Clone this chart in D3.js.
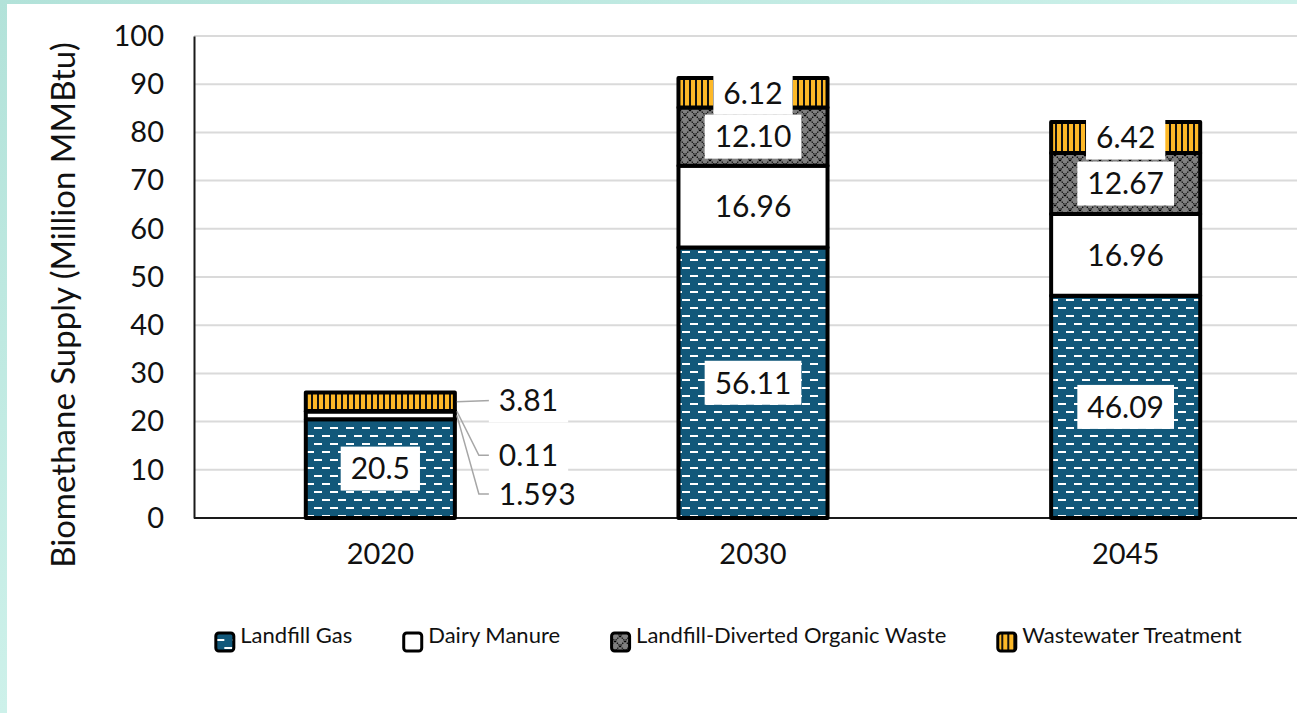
<!DOCTYPE html>
<html>
<head>
<meta charset="utf-8">
<script src="https://cdnjs.cloudflare.com/ajax/libs/d3/7.8.5/d3.min.js"></script>
<style>
  body { margin: 0; background: #fff; }
  svg { display: block; font-family: Lato, "Noto Sans", sans-serif; }
</style>
</head>
<body>
<div id="chart"></div>
<script>
// values
const years = ["2020", "2030", "2045"];
const seriesNames = ["Landfill Gas", "Dairy Manure", "Landfill-Diverted Organic Waste", "Wastewater Treatment"];
const landfillGas = [20.5, 56.11, 46.09];
const dairyManure = [1.593, 16.96, 16.96];
const organicWaste = [0.11, 12.10, 12.67];
const wastewater = [3.81, 6.12, 6.42];
const landfillLabels = ["20.5", "56.11", "46.09"];
const dairyLabels = ["1.593", "16.96", "16.96"];
const organicLabels = ["0.11", "12.10", "12.67"];
const wastewaterLabels = ["3.81", "6.12", "6.42"];
const yTicks = [0, 10, 20, 30, 40, 50, 60, 70, 80, 90, 100];
const yTitle = "Biomethane Supply (Million MMBtu)";

const W = 1297, H = 713;
const plot = {left: 194, right: 1312, top: 36, bottom: 518};

const seriesKeys = ["landfill", "dairy", "organic", "wastewater"];
const fills = ["url(#pLandfill)", "#ffffff", "url(#pOrganic)", "url(#pWaste)"];
const labelsBySeries = [landfillLabels, dairyLabels, organicLabels, wastewaterLabels];

const rows = years.map((yr, i) => ({
  year: yr,
  landfill: landfillGas[i],
  dairy: dairyManure[i],
  organic: organicWaste[i],
  wastewater: wastewater[i]
}));

const stacked = d3.stack().keys(seriesKeys)(rows);

const svg = d3.select("#chart").append("svg")
  .attr("width", W)
  .attr("height", H);

// patterns + background gradient
const defs = svg.append("defs");
const bg = defs.append("linearGradient").attr("id", "bgGrad")
  .attr("x1", 0).attr("y1", 0).attr("x2", 1).attr("y2", 1);
bg.append("stop").attr("offset", "0%").attr("stop-color", "#b2e2d9");
bg.append("stop").attr("offset", "50%").attr("stop-color", "#cdf1ea");
bg.append("stop").attr("offset", "100%").attr("stop-color", "#dcf8f3");

const pL = defs.append("pattern").attr("id", "pLandfill")
  .attr("patternUnits", "userSpaceOnUse").attr("width", 16).attr("height", 16);
pL.append("rect").attr("width", 16).attr("height", 16).attr("fill", "#12587a");
pL.append("rect").attr("x", 2).attr("y", 3).attr("width", 8).attr("height", 2).attr("fill", "#fff");
pL.append("rect").attr("x", 10).attr("y", 11).attr("width", 8).attr("height", 2).attr("fill", "#fff");
pL.append("rect").attr("x", -6).attr("y", 11).attr("width", 8).attr("height", 2).attr("fill", "#fff");

const pW = defs.append("pattern").attr("id", "pWaste")
  .attr("patternUnits", "userSpaceOnUse").attr("width", 6).attr("height", 6);
pW.append("rect").attr("width", 6).attr("height", 6).attr("fill", "#111");
pW.append("rect").attr("x", 1).attr("width", 4).attr("height", 6).attr("fill", "#fdb827");

const pO = defs.append("pattern").attr("id", "pOrganic")
  .attr("patternUnits", "userSpaceOnUse").attr("width", 10).attr("height", 10);
pO.append("rect").attr("width", 10).attr("height", 10).attr("fill", "#808080");
pO.append("path").attr("d", "M0,0L10,10M10,0L0,10")
  .attr("stroke", "#000").attr("stroke-width", 1.2).attr("stroke-dasharray", "1.4,1");

svg.append("rect").attr("width", W).attr("height", H).attr("fill", "url(#bgGrad)");
svg.append("rect").attr("x", 7).attr("y", 4).attr("width", W - 7).attr("height", H - 4).attr("fill", "#fff");

const x = d3.scaleBand()
  .domain(years)
  .range([plot.left, plot.right])
  .paddingInner(0.6)
  .paddingOuter(0.3);

const y = d3.scaleLinear()
  .domain([0, 100])
  .range([plot.bottom, plot.top]);

// gridlines
svg.append("g")
  .selectAll("line")
  .data(yTicks.filter(d => d > 0))
  .enter().append("line")
    .attr("x1", plot.left).attr("x2", W)
    .attr("y1", d => y(d)).attr("y2", d => y(d))
    .attr("stroke", "#dadada")
    .attr("stroke-width", 2);

// y axis
const yAxis = svg.append("g")
  .attr("transform", "translate(" + plot.left + ",0)")
  .call(d3.axisLeft(y).tickValues(yTicks).tickSize(0).tickPadding(30));
yAxis.select(".domain").attr("stroke", "#1a1a1a").attr("stroke-width", 2);
yAxis.selectAll("text")
  .attr("font-size", 29).attr("fill", "#111").attr("font-family", "Lato");

// x axis
const xAxis = svg.append("g")
  .attr("transform", "translate(0," + plot.bottom + ")")
  .call(d3.axisBottom(x).tickSize(0).tickPadding(25));
xAxis.select(".domain").remove();
svg.append("line")
  .attr("x1", plot.left).attr("x2", W)
  .attr("y1", plot.bottom).attr("y2", plot.bottom)
  .attr("stroke", "#1a1a1a").attr("stroke-width", 2);
xAxis.selectAll("text")
  .attr("font-size", 29).attr("fill", "#111").attr("font-family", "Lato");

svg.append("text")
  .attr("transform", "translate(75,305) rotate(-90)")
  .attr("text-anchor", "middle")
  .attr("font-size", 33)
  .attr("fill", "#111")
  .text(yTitle);

// bars
const layer = svg.append("g").selectAll("g")
  .data(stacked)
  .enter().append("g")
    .attr("fill", (d, i) => fills[i]);

layer.selectAll("rect")
  .data(d => d)
  .enter().append("rect")
    .attr("x", d => x(d.data.year))
    .attr("y", d => y(d[1]))
    .attr("width", x.bandwidth())
    .attr("height", d => y(d[0]) - y(d[1]))
    .attr("stroke", "#000")
    .attr("stroke-width", 4)
    .attr("stroke-linejoin", "round");

// data labels: inside for big segments, callouts for the 2020 thin ones
const callouts = {
  "2020": {dairy: 5.0, organic: 13.0, wastewater: 24.4}
};

const labelG = svg.append("g");

function addLabel(cx, cy, txt, anchor) {
  const g = labelG.append("g");
  const t = g.append("text")
    .attr("x", cx).attr("y", cy)
    .attr("dy", "0.36em")
    .attr("text-anchor", anchor)
    .attr("font-size", 30)
    .attr("fill", "#111")
    .text(txt);
  const bb = t.node().getBBox();
  g.insert("rect", "text")
    .attr("x", bb.x - 10).attr("y", cy - 22)
    .attr("width", bb.width + 20).attr("height", 44)
    .attr("fill", "#fff");
}

stacked.forEach((s, si) => {
  s.forEach((d, i) => {
    const yr = d.data.year;
    const txt = labelsBySeries[si][i];
    const c = callouts[yr];
    if (c && c[s.key] !== undefined) {
      const ax = x(yr) + x.bandwidth() + 2;
      const ay = y((d[0] + d[1]) / 2);
      const ly = y(c[s.key]);
      const lx = ax + 34;
      const pts = si === 3
        ? [[ax, ay], [lx, ly]]
        : [[ax, ay], [lx - 12, ly], [lx, ly]];
      labelG.append("path")
        .attr("d", d3.line()(pts))
        .attr("fill", "none")
        .attr("stroke", "#a6a6a6")
        .attr("stroke-width", 1.5);
      addLabel(lx + 8, ly, txt, "start");
    } else {
      addLabel(x(yr) + x.bandwidth() / 2, (y(d[0]) + y(d[1])) / 2, txt, "middle");
    }
  });
});

// legend
const legend = svg.append("g").attr("transform", "translate(0,636)");
let lx = 0;
seriesNames.forEach((name, i) => {
  const g = legend.append("g").attr("transform", "translate(" + lx + ",0)");
  g.append("rect")
    .attr("x", 1.5).attr("y", -3)
    .attr("width", 18).attr("height", 18)
    .attr("rx", 3)
    .attr("fill", fills[i])
    .attr("stroke", "#000")
    .attr("stroke-width", 3);
  const t = g.append("text")
    .attr("x", 26).attr("y", 0)
    .attr("dy", "0.32em")
    .attr("font-size", 22)
    .attr("fill", "#111")
    .text(name);
  lx += 26 + t.node().getComputedTextLength() + 50;
});
const legendW = lx - 50;
legend.attr("transform", "translate(" + (728 - legendW / 2) + ",636)");
</script>
</body>
</html>
